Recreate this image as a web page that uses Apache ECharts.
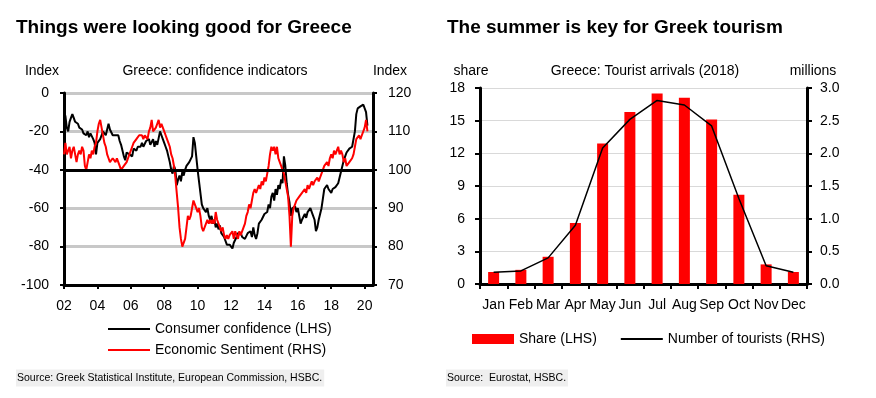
<!DOCTYPE html>
<html>
<head>
<meta charset="utf-8">
<script src="https://cdn.jsdelivr.net/npm/echarts@6/dist/echarts.min.js"></script>
<style>
html, body { margin: 0; padding: 0; background: #fff; }
#main { width: 876px; height: 398px; }
</style>
</head>
<body>
<div id="main"></div>
<script>
// left panel: monthly, Jan 2002 - Mar 2020
var startYear = 2002;
var consumerConf = [
  -10, -12, -18, -20, -15, -13, -11, -13, -15, -16, -16, -18,
  -18, -19, -21, -20, -22, -20, -23, -21, -20, -24, -26, -32,
  -26, -25, -24, -22, -20, -20, -22, -19, -16, -19, -20, -22,
  -21, -22, -23, -22, -25, -27, -30, -33, -35, -31, -30, -32,
  -31, -33, -29, -28, -30, -28, -29, -28, -26, -28, -27, -25,
  -26, -24, -27, -26, -24, -28, -25, -27, -26, -20, -22, -24,
  -26, -28, -30, -33, -36, -40, -42, -38, -40, -48, -45, -43,
  -46, -41, -43, -40, -38, -39, -36, -37, -33, -23, -26, -33,
  -40, -46, -52, -58, -60, -59, -62, -60, -64, -66, -64, -68,
  -66, -70, -68, -71, -69, -73, -72, -75, -74, -79, -78, -79,
  -79, -81, -78, -77, -75, -73, -74, -73, -75, -74, -76, -75,
  -73, -74, -72, -75, -70, -74, -76, -73, -68, -69, -66, -66,
  -63, -64, -62, -58, -60, -54, -52, -56, -50, -53, -48, -50,
  -45, -47, -33, -38, -47, -53, -57, -64, -60, -61, -59, -62,
  -60, -64, -68, -66, -65, -63, -65, -62, -61, -60, -62, -63,
  -66, -72, -70, -66, -65, -60, -55, -50, -49, -48, -50, -49,
  -52, -50, -50, -49, -48, -47, -44, -41, -38, -35, -33, -31,
  -30, -29, -30, -28, -28, -20, -11, -8, -7, -7, -6, -6,
  -5, -10, -17
];
var econSentiment = [
  104, 107, 104, 105, 106, 103, 105, 106, 104, 102, 104, 105,
  104, 106, 105, 101, 100, 102, 104, 103, 105, 104, 106, 107,
  110, 112, 113, 111, 109, 107, 106, 104, 103, 102, 102, 103,
  103, 102, 103, 102, 101, 100, 100, 101, 101, 102, 103, 104,
  105, 106, 107, 107, 108, 108, 109, 109, 109, 108, 109, 109,
  108, 110, 111, 113, 110, 110, 111, 112, 113, 111, 112, 111,
  110, 109, 108, 107, 106, 104, 103, 101, 98, 94, 90, 85,
  82, 80, 80, 82, 85, 88, 87, 88, 90, 92, 91, 90,
  89, 90, 88, 85, 84, 85, 86, 87, 86, 87, 86, 87,
  86, 89, 87, 86, 85, 84, 85, 83, 82, 83, 82, 83,
  83, 84, 82, 84, 83, 82, 84, 83, 83, 85, 86, 88,
  89, 91, 90, 92, 94, 95, 94, 95, 96, 95, 97, 96,
  98, 97, 99, 101, 104, 106, 105, 106, 104, 106, 103, 102,
  101, 100, 99, 97, 97, 93, 88, 80, 88, 90, 91, 92,
  92, 93, 93, 94, 94, 95, 94, 96, 95, 96, 97, 96,
  97, 97, 98, 97, 98, 99, 99, 101, 101, 102, 101, 103,
  104, 103, 105, 104, 105, 106, 104, 105, 104, 102, 103, 101,
  101, 102, 102, 103, 104, 106, 108, 108, 109, 108, 109, 109,
  111, 113, 110
];
var refLevel = -40;

// right panel
var months = ['Jan', 'Feb', 'Mar', 'Apr', 'May', 'Jun', 'Jul', 'Aug', 'Sep', 'Oct', 'Nov', 'Dec'];
var touristShare = [1.1, 1.3, 2.5, 5.6, 12.9, 15.8, 17.5, 17.1, 15.1, 8.2, 1.8, 1.1];
var touristMillions = [0.18, 0.2, 0.4, 0.9, 2.08, 2.52, 2.81, 2.74, 2.42, 1.31, 0.28, 0.18];

var FONT = '"Liberation Sans", Arial, sans-serif';

function monthly(vals) {
  return vals.map(function (v, i) { return [startYear + i / 12, v]; });
}

function txt(x, y, text, size, align, bold) {
  return {
    type: 'text', x: x, y: y, silent: true,
    style: {
      text: text, fill: '#000', textAlign: align || 'left', textVerticalAlign: 'middle',
      font: (bold ? 'bold ' : '') + size + 'px ' + FONT
    }
  };
}

function source(x, y, text) {
  return {
    type: 'text', x: x, y: y, silent: true,
    style: {
      text: text, fill: '#000', textVerticalAlign: 'middle', font: '10.5px ' + FONT,
      backgroundColor: '#efefef', padding: [3, 2, 3, 1]
    }
  };
}

var axisLbl = { color: '#000', fontSize: 14, fontFamily: FONT };
var noDot = { opacity: 0 };

var chart = echarts.init(document.getElementById('main'));

chart.setOption({
  animation: false,
  backgroundColor: '#fff',
  graphic: [
    txt(16, 28, 'Things were looking good for Greece', 19, 'left', true),
    txt(447, 28, 'The summer is key for Greek tourism', 19, 'left', true),
    txt(42, 71, 'Index', 14, 'center'),
    txt(215, 71, 'Greece: confidence indicators', 14, 'center'),
    txt(390, 71, 'Index', 14, 'center'),
    txt(471, 71, 'share', 14, 'center'),
    txt(645, 71, 'Greece: Tourist arrivals (2018)', 14, 'center'),
    txt(813, 71, 'millions', 14, 'center'),
    source(16, 378, 'Source: Greek Statistical Institute, European Commission, HSBC.'),
    source(446, 378, 'Source:  Eurostat, HSBC.')
  ],
  legend: [
    {
      left: 107, top: 322, padding: 0, orient: 'vertical', itemWidth: 42, itemHeight: 12, itemGap: 7,
      textStyle: { color: '#000', fontSize: 14, fontFamily: FONT },
      data: [
        { name: 'Consumer confidence (LHS)', itemStyle: noDot },
        { name: 'Economic Sentiment (RHS)', itemStyle: noDot }
      ]
    },
    {
      left: 472, top: 332, padding: 0, itemWidth: 42, itemHeight: 10, itemGap: 23,
      textStyle: { color: '#000', fontSize: 14, fontFamily: FONT },
      data: [
        { name: 'Share (LHS)', icon: 'rect' },
        { name: 'Number of tourists (RHS)', itemStyle: noDot }
      ]
    }
  ],
  grid: [
    { left: 64, top: 93, width: 309, height: 192 },
    { left: 480, top: 88, width: 327, height: 196 }
  ],
  xAxis: [
    {
      gridIndex: 0, type: 'value', min: 2002, max: 2020.5, interval: 2,
      axisLine: { show: true, onZero: false, lineStyle: { color: '#000', width: 3 } },
      axisTick: { show: true, length: 4, lineStyle: { color: '#000', width: 2 } },
      axisLabel: Object.assign({ margin: 14, showMaxLabel: false, formatter: function (v) {
        return Number.isInteger(v) ? String(v).slice(2) : '';
      } }, axisLbl),
      splitLine: { show: false }
    },
    {
      gridIndex: 1, type: 'category', data: months,
      axisLine: { show: true, onZero: false, lineStyle: { color: '#000', width: 3 } },
      axisTick: { show: true, length: 5, lineStyle: { color: '#000', width: 2 } },
      axisLabel: Object.assign({ margin: 14, interval: 0 }, axisLbl)
    }
  ],
  yAxis: [
    {
      gridIndex: 0, type: 'value', min: -100, max: 0, interval: 20, position: 'left',
      axisLine: { show: true, onZero: false, lineStyle: { color: '#000', width: 3 } },
      axisTick: { show: true, length: 4, lineStyle: { color: '#000', width: 2 } },
      axisLabel: Object.assign({ margin: 15 }, axisLbl),
      splitLine: { show: true, lineStyle: { color: '#c8c8c8', width: 3 } }
    },
    {
      gridIndex: 0, type: 'value', min: 70, max: 120, interval: 10, position: 'right',
      axisLine: { show: true, onZero: false, lineStyle: { color: '#000', width: 3 } },
      axisTick: { show: true, length: 4, lineStyle: { color: '#000', width: 2 } },
      axisLabel: Object.assign({ margin: 15 }, axisLbl),
      splitLine: { show: false }
    },
    {
      gridIndex: 1, type: 'value', min: 0, max: 18, interval: 3, position: 'left',
      axisLine: { show: true, onZero: false, lineStyle: { color: '#000', width: 3 } },
      axisTick: { show: true, length: 5, lineStyle: { color: '#000', width: 2 } },
      axisLabel: Object.assign({ margin: 15 }, axisLbl),
      splitLine: { show: true, lineStyle: { color: '#d9d9d9', width: 1 } }
    },
    {
      gridIndex: 1, type: 'value', min: 0, max: 3, interval: 0.5, position: 'right',
      axisLine: { show: true, onZero: false, lineStyle: { color: '#000', width: 3 } },
      axisTick: { show: true, length: 5, lineStyle: { color: '#000', width: 2 } },
      axisLabel: Object.assign({ margin: 13, formatter: function (v) { return v.toFixed(1); } }, axisLbl),
      splitLine: { show: false }
    }
  ],
  series: [
    {
      name: 'Consumer confidence (LHS)', type: 'line', xAxisIndex: 0, yAxisIndex: 0,
      data: monthly(consumerConf), symbol: 'none', color: '#000',
      lineStyle: { color: '#000', width: 2 },
      markLine: {
        silent: true, symbol: 'none', label: { show: false },
        lineStyle: { color: '#000', width: 3, type: 'solid' },
        data: [{ yAxis: refLevel }]
      }
    },
    {
      name: 'Economic Sentiment (RHS)', type: 'line', xAxisIndex: 0, yAxisIndex: 1,
      data: monthly(econSentiment), symbol: 'none', color: '#ff0000',
      lineStyle: { color: '#ff0000', width: 2 }
    },
    {
      name: 'Share (LHS)', type: 'bar', xAxisIndex: 1, yAxisIndex: 2,
      data: touristShare, barWidth: 11, color: '#ff0000',
      itemStyle: { color: '#ff0000' }
    },
    {
      name: 'Number of tourists (RHS)', type: 'line', xAxisIndex: 1, yAxisIndex: 3,
      data: touristMillions, symbol: 'none', color: '#000',
      lineStyle: { color: '#000', width: 1.5 }
    }
  ]
});
</script>
</body>
</html>
